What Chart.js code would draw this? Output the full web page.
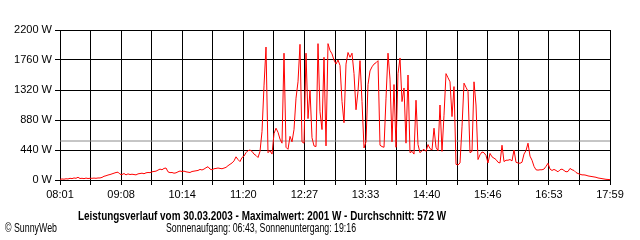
<!DOCTYPE html>
<html>
<head>
<meta charset="utf-8">
<script src="https://cdn.jsdelivr.net/npm/chart.js@4/dist/chart.umd.min.js"></script>
<style>
  body { margin: 0; background: #fff; }
  canvas { display: block; }
</style>
</head>
<body>
<canvas id="myChart" width="640" height="240"></canvas>
<script>
// time axis labels (every second grid line)
const tickLabels = ["08:01", "09:08", "10:14", "11:20", "12:27", "13:33", "14:40", "15:46", "16:53", "17:59"];

// power in W, one sample per step from 08:01 to 17:59
const power = [
  10, 15, 12, 18, 15, 25, 20, 30, 25, 40,
  22, 25, 20, 28, 22, 25, 25, 28, 25, 30,
  30, 38, 55, 62, 73, 80, 90, 100, 110, 115,
  85, 80, 95, 75, 90, 80, 85, 80, 75, 90,
  95, 100, 92, 105, 110, 108, 120, 125, 130, 145,
  160, 150, 170, 176, 120, 108, 110, 100, 105, 120,
  132, 125, 130, 120, 115, 110, 125, 130, 135, 140,
  155, 147, 160, 180, 195, 160, 150, 165, 170, 176,
  170, 165, 175, 185, 210, 230, 250, 280, 340, 300,
  270, 330, 350, 400, 430, 440, 420, 380, 360, 330,
  420, 710, 1380, 1950, 400, 430, 380, 680, 760, 700,
  600, 540, 1860, 480, 450, 640, 560, 740, 1200, 1440,
  1990, 560, 540, 1860, 900, 1320, 620, 500, 490, 2000,
  1000, 740, 1800, 500, 2000, 1900, 1850, 1760, 1700, 1760,
  1680, 1150, 840, 1700, 1870, 1800, 1860, 1560, 1030, 1300,
  1750, 1150, 470, 560, 1400, 1600, 1660, 1700, 1720, 1750,
  510, 490, 480, 1200, 1860, 1480, 560, 1400, 480, 1560,
  1790, 1150, 1350, 540, 1540, 400, 420, 380, 1170, 520,
  400, 430, 450, 420, 520, 460, 440, 760, 480, 430,
  1100, 420, 950, 1560, 1500, 1440, 930, 1370, 230, 220,
  250, 780, 1420, 1360, 1300, 400, 420, 1440, 1100, 300,
  370, 410, 400, 360, 250, 390, 340, 320, 300, 260,
  250, 510, 270, 290, 290, 300, 280, 440, 260, 250,
  245, 260, 380, 430, 540, 350, 290, 200, 150, 145,
  150, 150, 160, 200, 245, 160, 140, 155, 140, 120,
  150, 160, 140, 120, 125, 170, 150, 140, 110, 95,
  85, 75, 75, 70, 60, 55, 50, 45, 40, 30,
  25, 20, 15, 10, 8, 5
];

const average = 572;
const yTicks = [0, 440, 880, 1320, 1760, 2200];

const titleText = "Leistungsverlauf vom 30.03.2003 - Maximalwert: 2001 W - Durchschnitt: 572 W";
const subText = "Sonnenaufgang: 06:43, Sonnenuntergang: 19:16";
const creditText = "\u00A9 SunnyWeb";

const lastIndex = power.length - 1;

Chart.defaults.font.family = "'Liberation Sans', Arial, sans-serif";
Chart.defaults.font.size = 11;
Chart.defaults.color = "#000";

// footer texts, squeezed to the widths of the original bitmap font
const textPlugin = {
  id: "texts",
  afterDraw(chart) {
    const ctx = chart.ctx;
    ctx.save();
    ctx.fillStyle = "#000";
    ctx.textBaseline = "middle";
    ctx.textAlign = "center";
    ctx.font = "bold 12px 'Liberation Sans', Arial, sans-serif";
    ctx.fillText(titleText, 262, 217, 368);
    ctx.font = "12px 'Liberation Sans', Arial, sans-serif";
    ctx.fillText(subText, 261, 229, 190);
    ctx.textAlign = "left";
    ctx.fillText(creditText, 5, 229, 52);
    ctx.restore();
  }
};

const config = {
  type: "line",
  data: {
    datasets: [
      {
        label: "Leistung",
        data: power.map((v, i) => ({ x: i, y: v })),
        borderColor: "#ff0000",
        borderWidth: 1,
        pointRadius: 0,
        tension: 0,
        order: 0
      },
      {
        label: "Durchschnitt",
        data: [{ x: 0, y: average }, { x: lastIndex, y: average }],
        borderColor: "#8c8c8c",
        borderWidth: 1,
        pointRadius: 0,
        order: 1
      }
    ]
  },
  options: {
    responsive: false,
    animation: false,
    layout: { padding: { top: 30, right: 30, left: 0, bottom: 0 } },
    plugins: {
      legend: { display: false },
      tooltip: { enabled: false }
    },
    scales: {
      x: {
        type: "linear",
        min: 0,
        max: lastIndex,
        afterBuildTicks(scale) {
          const t = [];
          for (let k = 0; k <= 18; k++) t.push({ value: k * lastIndex / 18 });
          scale.ticks = t;
        },
        afterFit(scale) { scale.height = 60; },
        ticks: {
          autoSkip: false,
          maxRotation: 0,
          padding: 3,
          callback: (v, idx) => (idx % 2 === 0 ? tickLabels[idx / 2] : "")
        },
        grid: { color: "#000", lineWidth: 1, tickLength: 5 },
        border: { color: "#000" }
      },
      y: {
        min: 0,
        max: 2200,
        afterBuildTicks(scale) {
          scale.ticks = yTicks.map(v => ({ value: v }));
        },
        afterFit(scale) { scale.width = 60; },
        ticks: {
          padding: 3,
          callback: v => v + " W"
        },
        grid: { color: "#000", lineWidth: 1, tickLength: 5 },
        border: { color: "#000" }
      }
    }
  },
  plugins: [textPlugin]
};

const myChart = new Chart(document.getElementById("myChart"), config);
</script>
</body>
</html>
